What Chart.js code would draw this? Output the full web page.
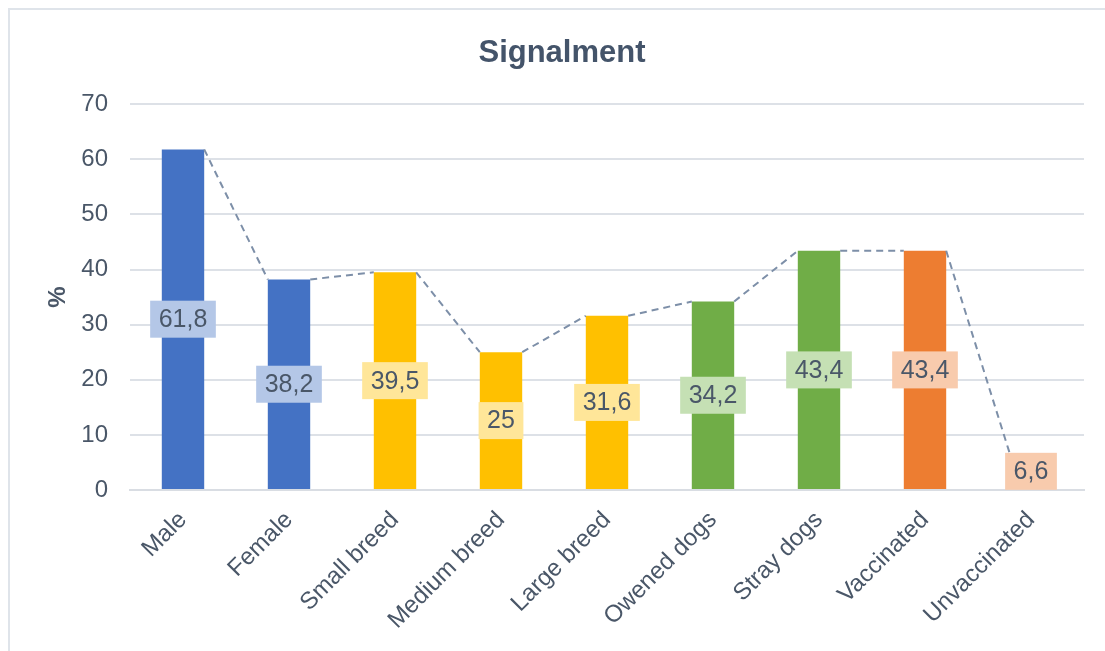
<!DOCTYPE html>
<html>
<head>
<meta charset="utf-8">
<script src="https://cdn.jsdelivr.net/npm/chart.js@4/dist/chart.umd.min.js"></script>
<style>
  html, body { margin: 0; padding: 0; background: #ffffff; }
  #wrap { position: relative; width: 1105px; height: 651px; }
</style>
</head>
<body>
<div id="wrap"><canvas id="c" width="1105" height="651"></canvas></div>
<script>
// ---- data ----
const categories = ["Male", "Female", "Small breed", "Medium breed", "Large breed", "Owened dogs", "Stray dogs", "Vaccinated", "Unvaccinated"];
const values = [61.8, 38.2, 39.5, 25, 31.6, 34.2, 43.4, 43.4, 6.6];
const yTicks = [0, 10, 20, 30, 40, 50, 60, 70];
const chartTitle = "Signalment";
const yAxisTitle = "%";

// ---- styles ----
const barColors = ["#4472C4", "#4472C4", "#FFC000", "#FFC000", "#FFC000", "#70AD47", "#70AD47", "#ED7D31", "#ED7D31"];
const labelBgColors = ["#B4C7E7", "#B4C7E7", "#FFE699", "#FFE699", "#FFE699", "#C5E0B4", "#C5E0B4", "#F8CBAD", "#F8CBAD"];
const textColor = "#4A5768";
const FONT = "'Liberation Sans', Arial, sans-serif";

const frame = {
  id: "frame",
  beforeDraw(chart) {
    const ctx = chart.ctx;
    ctx.save();
    ctx.strokeStyle = "#DFE4EA";
    ctx.lineWidth = 2;
    ctx.beginPath();
    ctx.moveTo(9, 651);
    ctx.lineTo(9, 9);
    ctx.lineTo(1105, 9);
    ctx.stroke();
    ctx.restore();
  }
};

const seriesLines = {
  id: "seriesLines",
  afterDatasetsDraw(chart) {
    const ctx = chart.ctx;
    const bars = chart.getDatasetMeta(0).data;
    ctx.save();
    ctx.strokeStyle = "#7D8FA8";
    ctx.lineWidth = 2;
    ctx.setLineDash([7, 5]);
    for (let i = 0; i < bars.length - 1; i++) {
      const a = bars[i], b = bars[i + 1];
      ctx.beginPath();
      ctx.moveTo(a.x + a.width / 2, a.y);
      ctx.lineTo(b.x - b.width / 2, b.y);
      ctx.stroke();
    }
    ctx.restore();
  }
};

const dataLabels = {
  id: "dataLabels",
  afterDatasetsDraw(chart) {
    const ctx = chart.ctx;
    const bars = chart.getDatasetMeta(0).data;
    ctx.save();
    ctx.font = "25px " + FONT;
    ctx.textAlign = "center";
    ctx.textBaseline = "middle";
    bars.forEach((bar, i) => {
      const txt = String(values[i]).replace(".", ",");
      const w = ctx.measureText(txt).width;
      const cy = (bar.y + bar.base) / 2;
      const bw = w + 17, bh = 37;
      ctx.fillStyle = labelBgColors[i];
      ctx.fillRect(bar.x - bw / 2, cy - bh / 2, bw, bh);
      ctx.fillStyle = textColor;
      ctx.fillText(txt, bar.x, cy + 1);
    });
    ctx.restore();
  }
};

new Chart(document.getElementById("c"), {
  type: "bar",
  data: {
    labels: categories,
    datasets: [{
      data: values,
      backgroundColor: barColors,
      borderWidth: 0,
      barPercentage: 0.4,
      categoryPercentage: 1.0
    }]
  },
  options: {
    responsive: false,
    animation: false,
    layout: { padding: { left: 40, right: 21, top: 0, bottom: 0 } },
    plugins: {
      legend: { display: false },
      tooltip: { enabled: false },
      title: {
        display: true,
        text: chartTitle,
        color: "#44546A",
        font: { family: FONT, size: 31, weight: "bold" },
        padding: { top: 35, bottom: 32 }
      }
    },
    scales: {
      x: {
        grid: { display: false, drawTicks: false },
        border: { display: true, color: "#D9DDE3", width: 2 },
        ticks: {
          color: textColor,
          font: { family: FONT, size: 24 },
          minRotation: 45,
          maxRotation: 45,
          padding: 16,
          autoSkip: false
        },
        afterFit(scale) { scale.height = 161; }
      },
      y: {
        min: 0,
        max: 70,
        afterBuildTicks(scale) { scale.ticks = yTicks.map(v => ({ value: v })); },
        grid: { color: "#DDE1E7", lineWidth: 2, drawTicks: false },
        border: { display: false },
        ticks: {
          color: textColor,
          font: { family: FONT, size: 24 },
          padding: 22
        },
        title: {
          display: true,
          text: yAxisTitle,
          color: textColor,
          font: { family: FONT, size: 24, weight: "bold" },
          padding: { top: 4, bottom: 0 }
        },
        afterFit(scale) { scale.width = 90; }
      }
    }
  },
  plugins: [frame, seriesLines, dataLabels]
});
</script>
</body>
</html>
